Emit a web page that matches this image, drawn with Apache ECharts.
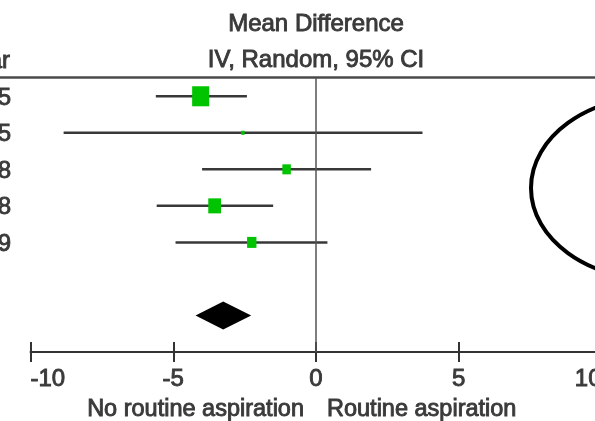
<!DOCTYPE html>
<html>
<head>
<meta charset="utf-8">
<script src="https://cdn.jsdelivr.net/npm/echarts@6/dist/echarts.min.js"></script>
<style>
  html, body { margin: 0; padding: 0; background: #fff; }
  #forestChart { width: 595px; height: 421px; }
</style>
</head>
<body>
<div id="forestChart"></div>
<script>
// study rows (only the last digit of the year is visible in the crop)
const studyYears = ['2005', '2005', '2008', '2008', '2009'];
const meanDiff = [-4.04, -2.56, -1.03, -3.55, -2.25];
const ciLow = [-5.61, -8.84, -3.99, -5.58, -4.92];
const ciHigh = [-2.42, 3.73, 1.93, -1.50, 0.40];
const weights = [46.4, 1.9, 11.6, 26.1, 14.0];

// pooled estimate
const pooledMD = -3.25;
const pooledLow = -4.22;
const pooledHigh = -2.27;

const xTicks = [-10, -5, 0, 5, 10];

const FONT = 'Liberation Sans, Arial, sans-serif';
const TEXT_COLOR = '#3a3a3a';

const studyData = studyYears.map((y, i) => [i + 1, ciLow[i], ciHigh[i], meanDiff[i], weights[i]]);
const pooledData = [[7, pooledLow, pooledHigh, pooledMD]];

// slightly heavier text, like the blurred original
const textStyle = (text, align, size) => ({
  text: text,
  align: align,
  verticalAlign: 'middle',
  fontSize: size,
  fontFamily: FONT,
  fill: TEXT_COLOR,
  stroke: TEXT_COLOR,
  lineWidth: 0.9
});

const renderStudy = (params, api) => {
  const row = api.value(0);
  const p1 = api.coord([api.value(1), row]);
  const p2 = api.coord([api.value(2), row]);
  const c = api.coord([api.value(3), row]);
  // box area ~ weight
  const h = 2.94 * Math.sqrt(api.value(4));
  const w = h * 0.85;
  return {
    type: 'group',
    children: [
      {
        type: 'line',
        shape: { x1: p1[0], y1: p1[1], x2: p2[0], y2: p2[1] },
        style: { stroke: '#383838', lineWidth: 2.5 }
      },
      {
        type: 'rect',
        shape: { x: c[0] - w / 2, y: c[1] - h / 2, width: w, height: h },
        style: { fill: '#00c400' }
      },
      {
        type: 'text',
        x: 11,
        y: c[1] + 2,
        style: textStyle(studyYears[params.dataIndex], 'right', 24)
      }
    ]
  };
}

const renderPooled = (params, api) => {
  const row = api.value(0);
  const l = api.coord([api.value(1), row]);
  const r = api.coord([api.value(2), row]);
  const c = api.coord([api.value(3), row]);
  const half = 14;
  return {
    type: 'polygon',
    shape: { points: [[l[0], l[1]], [c[0], c[1] - half], [r[0], r[1]], [c[0], c[1] + half]] },
    style: { fill: '#000' }
  };
}

const chart = echarts.init(document.getElementById('forestChart'));

const option = {
  backgroundColor: '#fff',
  animation: false,
  grid: { left: 30.5, top: 78, width: 571, height: 274, outerBoundsMode: 'none', containLabel: false },
  xAxis: [
    {
      type: 'value',
      position: 'bottom',
      min: -10,
      max: 10,
      interval: 5,
      splitLine: { show: false },
      axisLine: { show: true, lineStyle: { color: '#333', width: 2 } },
      axisTick: { show: true, length: 10, lineStyle: { color: '#333', width: 2 } },
      axisLabel: {
        margin: 15,
        fontSize: 24,
        fontFamily: FONT,
        color: TEXT_COLOR,
        textBorderColor: TEXT_COLOR,
        textBorderWidth: 0.9,
        alignMinLabel: 'left',
        alignMaxLabel: 'right',
        customValues: xTicks
      }
    },
    {
      // second copy only for the upward half of the ticks
      type: 'value',
      position: 'bottom',
      min: -10,
      max: 10,
      interval: 5,
      splitLine: { show: false },
      axisLine: { show: false },
      axisTick: { show: true, inside: true, length: 10, lineStyle: { color: '#333', width: 2 } },
      axisLabel: { show: false }
    }
  ],
  yAxis: {
    type: 'value',
    inverse: true,
    min: 0.5,
    max: 8,
    show: false
  },
  series: [
    {
      type: 'custom',
      xAxisIndex: 0,
      renderItem: renderStudy,
      data: studyData,
      z: 3,
      markLine: {
        silent: true,
        symbol: 'none',
        label: { show: false },
        lineStyle: { color: '#555', width: 1.5, type: 'solid' },
        data: [{ xAxis: 0 }]
      }
    },
    {
      type: 'custom',
      xAxisIndex: 0,
      renderItem: renderPooled,
      data: pooledData,
      z: 3
    }
  ],
  graphic: [
    {
      type: 'line',
      shape: { x1: 0, y1: 77.5, x2: 595, y2: 77.5 },
      style: { stroke: '#4a4a4a', lineWidth: 2.5 }
    },
    { type: 'text', x: 316, y: 24, style: textStyle('Mean Difference', 'center', 24) },
    { type: 'text', x: 316, y: 60, style: textStyle('IV, Random, 95% CI', 'center', 24) },
    { type: 'text', x: 10, y: 61, style: textStyle('Year', 'right', 24) },
    { type: 'text', x: 304, y: 410, style: textStyle('No routine aspiration', 'right', 23.5) },
    { type: 'text', x: 327, y: 410, style: textStyle('Routine aspiration', 'left', 23.5) },
    {
      // hand-drawn circle annotation on the right
      type: 'ellipse',
      shape: { cx: 657, cy: 188, rx: 126, ry: 92 },
      style: { fill: 'none', stroke: '#000', lineWidth: 4 },
      z: 10
    }
  ]
};

option && chart.setOption(option);
</script>
</body>
</html>
